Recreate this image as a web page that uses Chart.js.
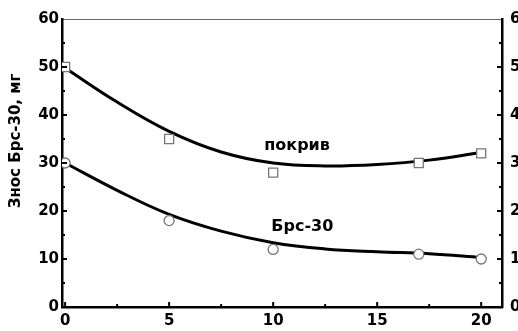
<!DOCTYPE html>
<html>
<head>
<meta charset="utf-8">
<script src="https://cdn.jsdelivr.net/npm/chart.js@4.4.0/dist/chart.umd.min.js"></script>
<style>
  html, body { margin: 0; padding: 0; background: #fff; overflow: hidden; }
  #wrap { width: 540px; height: 331px; }
</style>
</head>
<body>
<div id="wrap"><canvas id="myChart" width="540" height="331"></canvas></div>
<script>
// measured points
const xPoints = [0, 5, 10, 17, 20];
const pokrivPoints = [50, 35, 28, 30, 32];
const brsPoints = [30, 18, 12, 11, 10];

// fitted curves
const xFit = [0, 2.5, 5, 7.5, 10, 12.5, 15, 17.5, 20];
const pokrivFit = [49.8, 42.7, 36.6, 32.3, 30, 29.4, 29.7, 30.6, 32.2];
const brsFit = [30, 24.3, 19.3, 15.8, 13.4, 12.1, 11.5, 11.1, 10.3];

// ticks
const xMajor = [0, 5, 10, 15, 20];
const xMinor = [2.5, 7.5, 12.5, 17.5];
const yMajor = [0, 10, 20, 30, 40, 50, 60];
const yMinor = [5, 15, 25, 35, 45, 55];

const yTitle = "Знос Брс-30, мг";
const curveLabels = [
  { text: "покрив", x: 11.15, y: 32.7 },
  { text: "Брс-30", x: 11.4, y: 15.8 },
];

const FONT = "'DejaVu Sans', sans-serif";

const toXY = (xs, ys) => xs.map((x, i) => ({ x: x, y: ys[i] }));

const data = {
  datasets: [
    {
      label: "покрив",
      data: toXY(xPoints, pokrivPoints),
      showLine: false,
      pointStyle: "rect",
      pointRadius: 6.4,
      pointBackgroundColor: "#fff",
      pointBorderColor: "#777",
      pointBorderWidth: 1.3,
      order: 0,
    },
    {
      label: "Брс-30",
      data: toXY(xPoints, brsPoints),
      showLine: false,
      pointStyle: "circle",
      pointRadius: 5,
      pointBackgroundColor: "#fff",
      pointBorderColor: "#777",
      pointBorderWidth: 1.3,
      order: 0,
    },
    {
      label: "fit покрив",
      data: toXY(xFit, pokrivFit),
      showLine: true,
      borderColor: "#000",
      borderWidth: 3,
      pointRadius: 0,
      tension: 0.4,
      order: 1,
    },
    {
      label: "fit Брс-30",
      data: toXY(xFit, brsFit),
      showLine: true,
      borderColor: "#000",
      borderWidth: 3,
      pointRadius: 0,
      tension: 0.4,
      order: 1,
    },
  ],
};

// inward ticks, curve names and the y title
const extras = {
  id: "extras",
  afterDraw(chart) {
    const ctx = chart.ctx;
    const { x, y } = chart.scales;
    const area = chart.chartArea;
    ctx.save();
    ctx.strokeStyle = "#000";
    ctx.lineWidth = 2;
    ctx.beginPath();
    const tickX = (vals, len) => vals.forEach((v) => {
      const px = x.getPixelForValue(v);
      ctx.moveTo(px, area.bottom);
      ctx.lineTo(px, area.bottom - len);
    });
    const tickY = (vals, len) => vals.forEach((v) => {
      const py = y.getPixelForValue(v);
      ctx.moveTo(area.left, py);
      ctx.lineTo(area.left + len, py);
      ctx.moveTo(area.right, py);
      ctx.lineTo(area.right - len, py);
    });
    tickX(xMajor, 5);
    tickX(xMinor, 3);
    tickY(yMajor.slice(1, -1), 5);
    tickY(yMinor, 3);
    ctx.stroke();

    ctx.fillStyle = "#000";
    ctx.font = "bold 16px " + FONT;
    ctx.textAlign = "center";
    ctx.textBaseline = "alphabetic";
    curveLabels.forEach((l) => {
      ctx.fillText(l.text, x.getPixelForValue(l.x), y.getPixelForValue(l.y));
    });

    ctx.translate(16, y.getPixelForValue(34.6));
    ctx.rotate(-Math.PI / 2);
    ctx.textBaseline = "middle";
    ctx.font = "bold 15px " + FONT;
    ctx.fillText(yTitle, 0, 0);
    ctx.restore();
  },
};

const tickFont = { family: FONT, size: 15, weight: "bold" };

const config = {
  type: "scatter",
  data: data,
  options: {
    responsive: false,
    animation: false,
    layout: { padding: 0 },
    plugins: {
      legend: false,
      tooltip: { enabled: false },
    },
    scales: {
      x: {
        type: "linear",
        position: "bottom",
        min: -0.15,
        max: 21,
        afterBuildTicks: (s) => { s.ticks = xMajor.map((v) => ({ value: v })); },
        afterFit: (s) => { s.height = 24; },
        grid: { display: false, drawTicks: false },
        border: { display: true, color: "#000", width: 2.5 },
        ticks: { color: "#000", font: tickFont, padding: 5, maxRotation: 0 },
      },
      x2: {
        type: "linear",
        position: "top",
        min: -0.15,
        max: 21,
        afterFit: (s) => { s.height = 19; },
        grid: { display: false, drawTicks: false },
        border: { display: true, color: "#666", width: 1 },
        ticks: { display: false },
      },
      y: {
        type: "linear",
        position: "left",
        min: 0,
        max: 60,
        afterBuildTicks: (s) => { s.ticks = yMajor.map((v) => ({ value: v })); },
        afterFit: (s) => { s.width = 62; },
        grid: { display: false, drawTicks: false },
        border: { display: true, color: "#000", width: 2.5 },
        ticks: { color: "#000", font: tickFont, padding: 3 },
      },
      y2: {
        type: "linear",
        position: "right",
        min: 0,
        max: 60,
        afterBuildTicks: (s) => { s.ticks = yMajor.map((v) => ({ value: v })); },
        afterFit: (s) => { s.width = 38; },
        grid: { display: false, drawTicks: false },
        border: { display: true, color: "#000", width: 2.5 },
        ticks: { color: "#000", font: tickFont, padding: 8 },
      },
    },
  },
  plugins: [extras],
};

const context = document.getElementById("myChart").getContext("2d");
const chart = new Chart(context, config);
</script>
</body>
</html>
